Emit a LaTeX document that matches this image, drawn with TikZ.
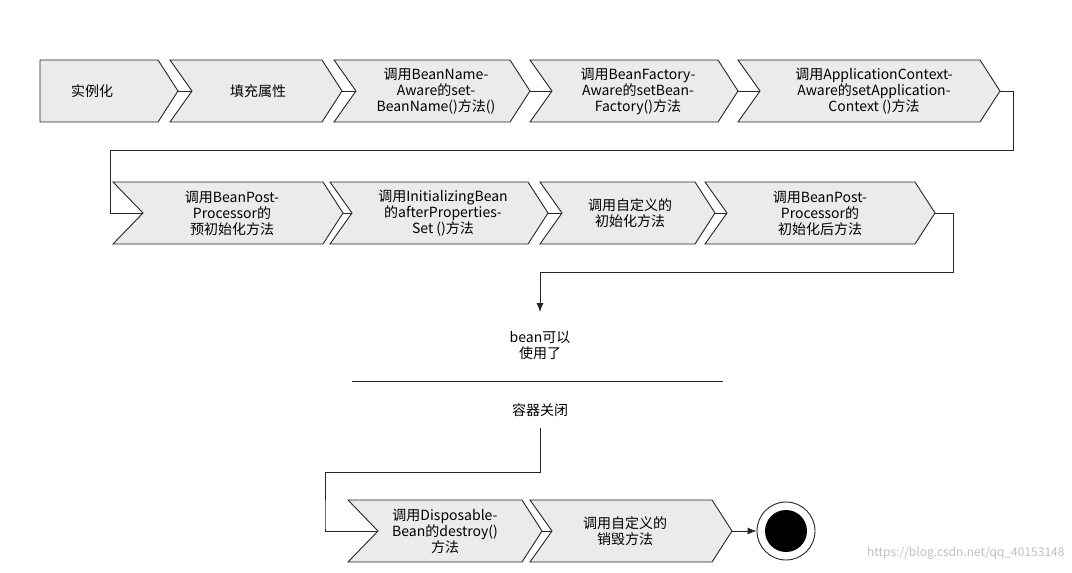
\documentclass[tikz,border=0pt]{standalone}
\usepackage{fontspec}
\setmainfont{Noto Sans CJK SC}
\usetikzlibrary{arrows.meta}
\definecolor{chfill}{HTML}{EBEBEB}
\tikzset{
  chev/.style={draw=black!85,line width=0.9pt,fill=chfill},
  lbl/.style={align=center,font=\fontsize{14}{16}\selectfont,inner sep=0pt},
  con/.style={draw=black!85,line width=0.9pt},
  arr/.style={con,-{Latex[length=9pt,width=7pt]}}
}
% \mychev{name}{left}{right}{ycenter}{notch depth (0 = flat)}
\newcommand{\mychev}[5]{%
  \path[chev] (#2,#4-31) -- (#3,#4-31) -- (#3+20,#4) -- (#3,#4+31) -- (#2,#4+31) -- (#2+#5,#4) -- cycle;
  \coordinate (#1-in) at (#2+#5,#4);
  \coordinate (#1-out) at (#3+20,#4);
}
\begin{document}
\begin{tikzpicture}[x=1pt,y=-1pt]
\useasboundingbox (0,0) rectangle (1072,573);
% row 1
\mychev{a}{40}{158}{91}{0}
\mychev{b}{170}{322}{91}{22}
\mychev{c}{334}{510}{91}{22}
\mychev{d}{530}{718}{91}{22}
\mychev{e}{738}{980}{91}{22}
\node[lbl] (ta) at (92,91) {实例化};
\node[lbl] (tb) at (258,91) {填充属性};
\node[lbl] (tc) at (436,91) {调用BeanName-\\Aware的set-\\BeanName()方法()};
\node[lbl] (td) at (638,91) {调用BeanFactory-\\Aware的setBean-\\Factory()方法};
\node[lbl] (te) at (874,91) {调用ApplicationContext-\\Aware的setApplication-\\Context ()方法};
\draw[con] (a-out) -- (b-in);
\draw[con] (b-out) -- (c-in);
\draw[con] (c-out) -- (d-in);
\draw[con] (d-out) -- (e-in);
% row 2
\mychev{f}{113}{323}{213}{30}
\mychev{g}{330}{528}{213}{22}
\mychev{h}{540}{695}{213}{22}
\mychev{i}{705}{915}{213}{22}
\node[lbl] (tf) at (232,213) {调用BeanPost-\\Processor的\\预初始化方法};
\node[lbl] (tg) at (443,213) {调用InitializingBean\\的afterProperties-\\Set ()方法};
\node[lbl] (th) at (630,213) {调用自定义的\\初始化方法};
\node[lbl] (ti) at (820,213) {调用BeanPost-\\Processor的\\初始化后方法};
\draw[con] (e-out) -- ++(13,0) |- (110,150) |- (f-in);
\draw[con] (f-out) -- (g-in);
\draw[con] (g-out) -- (h-in);
\draw[con] (h-out) -- (i-in);
% middle
\node[lbl] (ready) at (540,345) {bean可以\\使用了};
\coordinate (bar1) at (352,381);
\coordinate (bar2) at (723,381);
\draw[con] (bar1) -- (bar2);
\node[lbl] (close) at (540,410) {容器关闭};
\draw[arr] (i-out) -- ++(18,0) |- (540,272) -- (540,312);
% row 3
\mychev{j}{348}{522}{531}{30}
\mychev{k}{530}{712}{531}{22}
\node[lbl] (tj) at (445,531) {调用Disposable-\\Bean的destroy()\\方法};
\node[lbl] (tk) at (625,531) {调用自定义的\\销毁方法};
\draw[con] (540,428) -- (540,472) -| (325,527) |- (j-in);
\draw[con] (j-out) -- (k-in);
\node[circle,draw=black!85,line width=0.9pt,minimum size=58pt,fill=white] (endo) at (786,531) {};
\node[circle,fill=black,minimum size=42pt] (endi) at (786,531) {};
\draw[arr] (k-out) -- (endo);
\node[font=\fontsize{12}{14}\selectfont,text=black!25,anchor=east] (wm) at (1068,553) {https://blog.csdn.net/qq\_40153148};
\end{tikzpicture}
\end{document}
